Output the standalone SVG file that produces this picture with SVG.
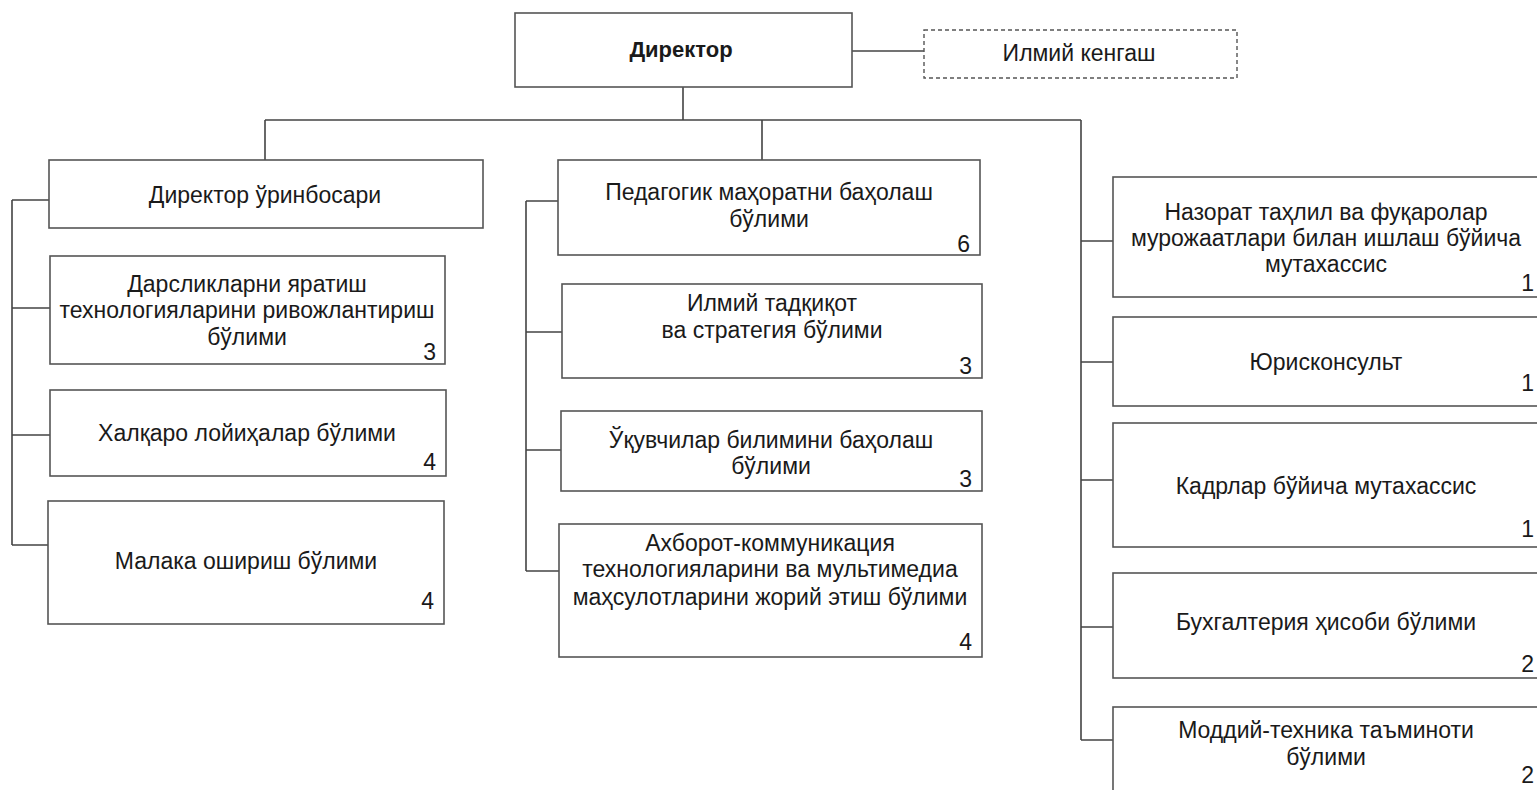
<svg xmlns="http://www.w3.org/2000/svg" width="1537" height="790" viewBox="0 0 1537 790">
<style>
.box{fill:#fff;stroke:#555;stroke-width:1.6}
.dash{fill:#fff;stroke:#555;stroke-width:1.4;stroke-dasharray:4 3}
.ln{fill:none;stroke:#444;stroke-width:1.6}
text{font-family:"Liberation Sans",Arial,sans-serif;font-size:23px;fill:#1a1a1a}
.c{text-anchor:middle}
.n{text-anchor:end}
.b{font-weight:bold;font-size:22px}
</style>
<rect width="1537" height="790" fill="#fff"/>
<g id="connectors">
<path class="ln" d="M852 51H924"/>
<path class="ln" d="M683 87V120M265 120H1081M265 120V160M762 120V160M1081 120V740"/>
<path class="ln" d="M12 200V545M12 200H49M12 308H50M12 435H50M12 545H48"/>
<path class="ln" d="M526 201V571M526 201H558M526 332H562M526 450H561M526 571H559"/>
<path class="ln" d="M1081 241H1113M1081 362H1113M1081 480H1113M1081 627H1113M1081 740H1113"/>
</g>
<g id="director"><rect class="box" x="515" y="13" width="337" height="74"/><text class="c b" x="681" y="57">Директор</text></g>
<g id="ilmiy-kengash"><rect class="dash" x="924" y="30" width="313" height="48"/><text class="c" x="1079" y="61">Илмий кенгаш</text></g>
<g id="deputy"><rect class="box" x="49" y="160" width="434" height="68"/><text class="c" x="265" y="203">Директор ўринбосари</text></g>
<g id="darslik"><rect class="box" x="50" y="256" width="395" height="108"/><text class="c" x="247" y="292">Дарсликларни яратиш<tspan x="247" dy="26">технологияларини ривожлантириш</tspan><tspan x="247" dy="27">бўлими</tspan></text><text class="n" x="436" y="360">3</text></g>
<g id="xalqaro"><rect class="box" x="50" y="390" width="396" height="86"/><text class="c" x="247" y="441">Халқаро лойиҳалар бўлими</text><text class="n" x="436" y="470">4</text></g>
<g id="malaka"><rect class="box" x="48" y="501" width="396" height="123"/><text class="c" x="246" y="569">Малака ошириш бўлими</text><text class="n" x="434" y="609">4</text></g>
<g id="pedagogik"><rect class="box" x="558" y="160" width="422" height="95"/><text class="c" x="769" y="200">Педагогик маҳоратни баҳолаш<tspan x="769" dy="27">бўлими</tspan></text><text class="n" x="970" y="252">6</text></g>
<g id="tadqiqot"><rect class="box" x="562" y="284" width="420" height="94"/><text class="c" x="772" y="311">Илмий тадқиқот<tspan x="772" dy="27">ва стратегия бўлими</tspan></text><text class="n" x="972" y="374">3</text></g>
<g id="uquvchilar"><rect class="box" x="561" y="411" width="421" height="80"/><text class="c" x="771" y="448">Ўқувчилар билимини баҳолаш<tspan x="771" dy="26">бўлими</tspan></text><text class="n" x="972" y="487">3</text></g>
<g id="axborot"><rect class="box" x="559" y="524" width="423" height="133"/><text class="c" x="770" y="551">Ахборот-коммуникация<tspan x="770" dy="26">технологияларини ва мультимедиа</tspan><tspan x="770" dy="28">маҳсулотларини жорий этиш бўлими</tspan></text><text class="n" x="972" y="650">4</text></g>
<g id="nazorat"><rect class="box" x="1113" y="177" width="430" height="120"/><text class="c" x="1326" y="220">Назорат таҳлил ва фуқаролар<tspan x="1326" dy="26">мурожаатлари билан ишлаш бўйича</tspan><tspan x="1326" dy="26">мутахассис</tspan></text><text class="n" x="1534" y="291">1</text></g>
<g id="yuriskonsult"><rect class="box" x="1113" y="317" width="430" height="89"/><text class="c" x="1326" y="370">Юрисконсульт</text><text class="n" x="1534" y="391">1</text></g>
<g id="kadrlar"><rect class="box" x="1113" y="423" width="430" height="124"/><text class="c" x="1326" y="494">Кадрлар бўйича  мутахассис</text><text class="n" x="1534" y="537">1</text></g>
<g id="buxgalteriya"><rect class="box" x="1113" y="573" width="430" height="105"/><text class="c" x="1326" y="630">Бухгалтерия ҳисоби бўлими</text><text class="n" x="1534" y="672">2</text></g>
<g id="moddiy"><rect class="box" x="1113" y="707" width="430" height="100"/><text class="c" x="1326" y="738">Моддий-техника таъминоти<tspan x="1326" dy="27">бўлими</tspan></text><text class="n" x="1534" y="783">2</text></g>
</svg>
